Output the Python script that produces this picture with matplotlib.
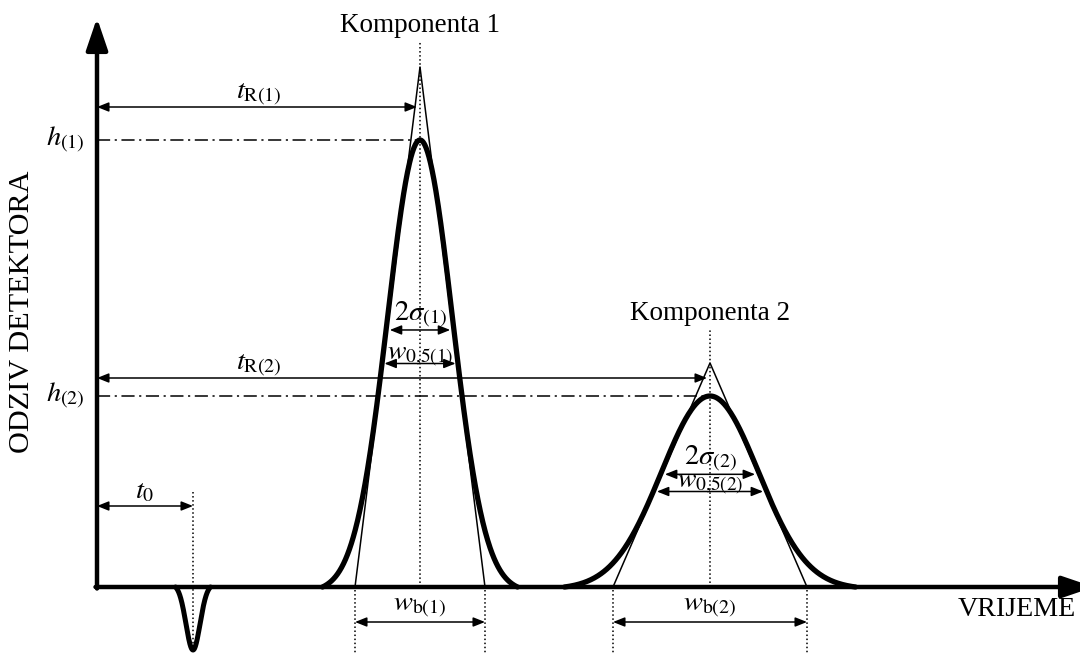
import numpy as np
import matplotlib
import matplotlib.pyplot as plt

matplotlib.use("Agg")

plt.rcParams["font.family"] = ["Liberation Serif", "DejaVu Serif"]
plt.rcParams["mathtext.fontset"] = "stix"

# chromatogram values (time / response in arbitrary units)
T0 = 96
DIP_DEPTH = 63
DIP_SIGMA = 7
PEAK_NAMES = ["Komponenta 1", "Komponenta 2"]
PEAK_IDS = ["1", "2"]
RETENTION = [323, 613]
HEIGHTS = [447, 191]
SIGMAS = [32.5, 48.5]
TANGENT_APEX = [520, 224]

FS = 19.5
MFS = 20.5
BOLD = 3.2
THIN = 1.1


def dim_arrow(ax, x1, x2, y, style="<|-|>"):
    ax.annotate(
        "", xy=(x2, y), xytext=(x1, y), annotation_clip=False,
        arrowprops=dict(arrowstyle=f"{style},head_length=0.7,head_width=0.28",
                        lw=THIN, color="black", shrinkA=0, shrinkB=0, mutation_scale=10),
    )


def gauss_to_zero(t, centre, height, sigma, reach):
    # gaussian pulled down so the drawn ends sit on the baseline
    g = np.exp(-0.5 * ((t - centre) / sigma) ** 2)
    g_end = np.exp(-0.5 * reach ** 2)
    return height * (g - g_end) / (1 - g_end)


def main():
    fig = plt.figure(figsize=(10.8, 6.53), dpi=100)
    ax = fig.add_axes([0, 0, 1, 1])
    ax.set_xlim(-97, 983)
    ax.set_ylim(-66, 587)
    ax.axis("off")

    # axes with big arrow heads
    head = "-|>,head_length=0.97,head_width=0.33"
    ax.annotate("", xy=(0, 569), xytext=(0, -1.5), annotation_clip=False,
                arrowprops=dict(arrowstyle=head, lw=BOLD, color="black",
                                shrinkA=0, shrinkB=0, mutation_scale=20))
    ax.annotate("", xy=(997, 0), xytext=(-1.5, 0), annotation_clip=False,
                arrowprops=dict(arrowstyle=head, lw=BOLD, color="black",
                                shrinkA=0, shrinkB=0, mutation_scale=20))
    ax.text(-75, 275, "ODZIV DETEKTORA", rotation=90, ha="center", va="center", fontsize=21.8)
    ax.text(979, -23, "VRIJEME", ha="right", va="center", fontsize=20.2)

    # dead time dip
    t = np.linspace(T0 - 2.5 * DIP_SIGMA, T0 + 2.5 * DIP_SIGMA, 200)
    ax.plot(t, -gauss_to_zero(t, T0, DIP_DEPTH, DIP_SIGMA, 2.5), color="black",
            lw=BOLD + 0.4, solid_capstyle="round")
    ax.plot([T0, T0], [95, -DIP_DEPTH], ls=":", color="black", lw=THIN)
    dim_arrow(ax, 0, T0, 81)
    ax.text(T0 / 2, 89, "$t_0$", ha="center", va="baseline", fontsize=MFS)

    tr_arrow_y = [480, 209]
    top_line = [545, 257]
    frac_2s = [0.575, 0.59]
    wb_y = -35
    for i in range(2):
        tr, h, s, apex = RETENTION[i], HEIGHTS[i], SIGMAS[i], TANGENT_APEX[i]
        pid = PEAK_IDS[i]
        t = np.linspace(tr - 3.0 * s, tr + 3.0 * s, 400)
        ax.plot(t, gauss_to_zero(t, tr, h, s, 3.0), color="black", lw=BOLD + 0.6,
                solid_capstyle="round")
        # tangent triangle
        ax.plot([tr - 2 * s, tr, tr + 2 * s], [0, apex, 0], color="black", lw=THIN)
        ax.plot([tr, tr], [0, top_line[i]], ls=":", color="black", lw=THIN)
        ax.text(tr, top_line[i] + 4, PEAK_NAMES[i], ha="center", va="bottom", fontsize=FS)

        # height
        ax.plot([0, tr], [h, h], color="black", lw=THIN, dashes=(8.6, 3, 1.4, 3))
        ax.text(-12, h, f"$h_{{({pid})}}$", ha="right", va="center", fontsize=MFS)

        # retention time
        dim_arrow(ax, 0, tr - 3, tr_arrow_y[i])
        ax.text(RETENTION[0] / 2, tr_arrow_y[i] + 8, f"$t_{{\\mathrm{{R({pid})}}}}$",
                ha="center", va="baseline", fontsize=MFS)

        # 2 sigma and half-height width
        y2s = frac_2s[i] * h
        dim_arrow(ax, tr - 0.93 * s, tr + 0.93 * s, y2s)
        ax.text(tr, y2s + 9, f"$2\\sigma_{{({pid})}}$", ha="center", va="baseline", fontsize=MFS)
        yh = 0.5 * h
        dim_arrow(ax, tr - 0.93 * 1.1774 * s, tr + 0.93 * 1.1774 * s, yh)
        ax.text(tr, yh + 4, f"$w_{{0{{,}}5({pid})}}$", ha="center", va="baseline",
                fontsize=MFS - 0.5)

        # base width
        for xb in (tr - 2 * s, tr + 2 * s):
            ax.plot([xb, xb], [-3, -66], ls=":", color="black", lw=THIN)
        dim_arrow(ax, tr - 2 * s, tr + 2 * s, wb_y)
        ax.text(tr, wb_y + 11, f"$w_{{\\mathrm{{b}}({pid})}}$", ha="center", va="baseline",
                fontsize=MFS)

    fig.savefig("out.png", dpi=100)
    plt.close(fig)


if __name__ == "__main__":
    main()
